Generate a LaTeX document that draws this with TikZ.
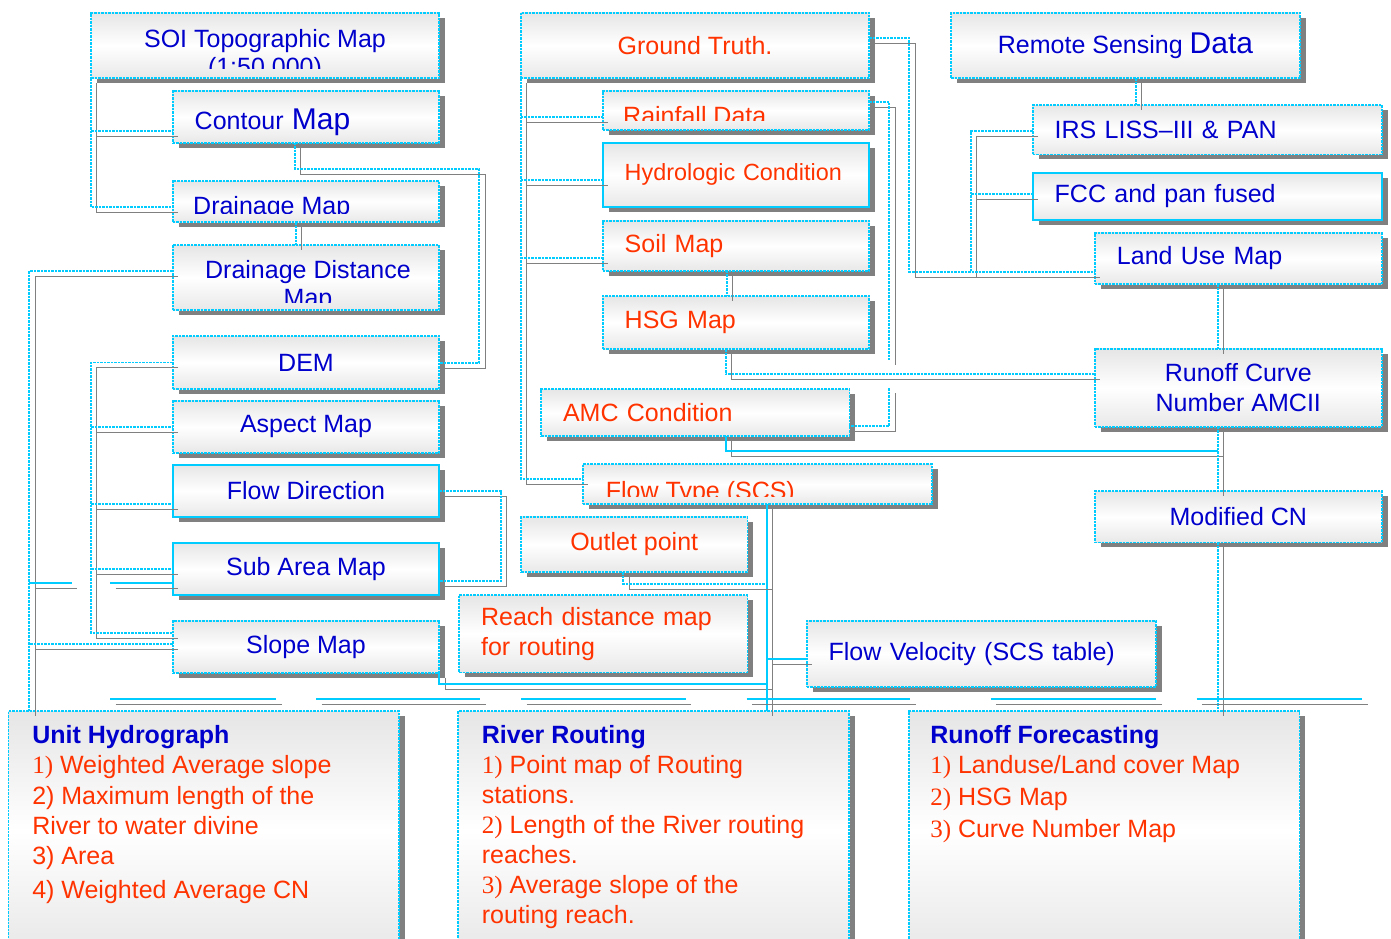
\documentclass[tikz,border=0pt]{standalone}
\usepackage{fontspec}
\setmainfont{Liberation Sans}
\newfontfamily\numfont{Liberation Serif}
\usetikzlibrary{calc,shadows}

\definecolor{linecyan}{RGB}{0,204,255}
\definecolor{shadegray}{RGB}{128,128,128}
\definecolor{txtblue}{RGB}{0,0,204}
\definecolor{txtred}{RGB}{255,51,0}

\begin{document}
\begin{tikzpicture}[
  x=1pt, y=-1pt,
  box/.style={
    draw=linecyan,
    line width=1.7pt,
    dash pattern=on 2.5pt off 1pt,
    top color=black!10, bottom color=black!9, middle color=white,
    drop shadow={shadow xshift=6pt, shadow yshift=-5pt, opacity=1, fill=shadegray},
    inner sep=0pt, outer sep=0pt,
    font=\fontsize{25}{30}\selectfont,
    align=center,
    minimum width=#1pt,
  },
  solidbox/.style={solid, line width=2pt},
  padded/.style={align=left, inner xsep=22pt, text width=#1pt},
  bl/.style={text=txtblue},
  rd/.style={text=txtred},
  lbl/.style={inner sep=0pt, font=\fontsize{25}{28}\selectfont, align=left},
  link/.style={
    draw=linecyan,
    line width=1.9pt,
    dash pattern=on 2.5pt off 1pt,
    preaction={draw=shadegray, transform canvas={shift={(5.5pt,-5pt)}}},
  },
  linkfull/.style={link, solid},
]
\useasboundingbox (0,0) rectangle (1391,938);
\clip (0,0) rectangle (1391,938);

% Left column
\node[box=348, minimum height=65.6] (soi) at (265,45.5) {};
\node[box=266.6, minimum height=52, padded=222.6, text height=31pt, bl] (contour) at (306,116.7) {Contour {\fontsize{30}{30}\selectfont Map}};
\node[box=266.6, minimum height=41] (drain) at (306,201.5) {};
\node[box=266.6, minimum height=65] (ddist) at (306,277.5) {};
\node[box=266.6, minimum height=53, bl] (dem) at (306,362.5) {DEM};
\node[box=266.6, minimum height=52, bl] (aspect) at (306,426.7) {Aspect Map};
\node[box=266.6, minimum height=52, solidbox, bl] (flowdir) at (306,490.7) {Flow Direction};
\node[box=266.6, minimum height=52.3, solidbox, bl] (subarea) at (306,568.8) {Sub Area Map};
\node[box=266.6, minimum height=52, bl] (slope) at (306,646.7) {Slope Map};

% Middle column
\node[box=348.6, minimum height=65.6, rd] (ground) at (695,45.5) {Ground Truth.};
\node[box=266.6, minimum height=39.3] (rain) at (736,110.3) {};
\node[box=266.6, minimum height=64, solidbox, padded=222.6, rd, font=\fontsize{23.4}{28}\selectfont] (hydro) at (736,174.7) {Hydrologic Condition};
\node[box=266.6, minimum height=50, padded=222.6, rd] (soil) at (736,245.7) {Soil Map};
\node[box=266.6, minimum height=53, padded=222.6, rd] (hsg) at (736,322.5) {HSG Map};
\node[box=308.3, minimum height=47, padded=264.3, rd] (amc) at (695.2,412.5) {AMC Condition};
\node[box=349, minimum height=40] (flowtype) at (757.2,484.3) {};
\node[box=226.3, minimum height=55.6, rd] (outlet) at (634.2,544.5) {Outlet point};
\node[box=288.3, minimum height=77.3, padded=244.3, rd] (reach) at (603.2,633.7) {Reach distance map\\for routing};
\node[box=349.3, minimum height=66, padded=305.3, bl] (velocity) at (981.3,653.7) {Flow Velocity (SCS table)};

% Right column
\node[box=349, minimum height=65.6, bl] (rsd) at (1125.5,45.5) {Remote Sensing {\fontsize{30}{30}\selectfont Data}};
\node[box=349, minimum height=49.3, padded=305, bl] (irs) at (1207.2,129.7) {IRS LISS--III \& PAN};
\node[box=349, minimum height=47.3, solidbox, padded=305, bl] (fcc) at (1207.2,196.3) {FCC and pan fused};
\node[box=286.7, minimum height=51.6, padded=242.7, bl] (landuse) at (1238.3,258.5) {Land Use Map};
\node[box=286.7, minimum height=77.7, bl] (curve) at (1238.3,387.8) {Runoff Curve\\Number AMCII};
\node[box=286.7, minimum height=51.3, bl] (modcn) at (1238.3,516.7) {Modified CN};

% Output boxes
\node[box=390.7, minimum height=240] (unit) at (203.7,831) {};
\node[box=391, minimum height=240] (river) at (653.8,831) {};
\node[box=390.3, minimum height=240] (forecast) at (1104.2,831) {};

% Cut-off labels
\begin{scope}
  \clip (soi.north west) rectangle (soi.east |- 0,68);
  \node[lbl, align=center, bl, anchor=base] (soiT) at ($(soi.north)+(0,62.3)$) {SOI Topographic Map\\(1:50,000)};
\end{scope}
\begin{scope}
  \clip (drain.north west) rectangle (drain.east |- 0,213.5);
  \node[lbl, bl, anchor=base west] (drainT) at ($(drain.west)+(20.3,13.1)$) {Drainage Map};
\end{scope}
\begin{scope}
  \clip (ddist.north west) rectangle (ddist.east |- 0,302);
  \node[lbl, align=center, bl, anchor=base] (ddistT) at ($(ddist.north)+(2,61)$) {Drainage Distance\\Map};
\end{scope}
\begin{scope}
  \clip (rain.north west) rectangle (rain.east |- 0,120);
  \node[lbl, rd, anchor=base west] (rainT) at ($(rain.north west)+(20.3,34)$) {Rainfall Data};
\end{scope}
\begin{scope}
  \clip (flowtype.north west) rectangle (flowtype.east |- 0,496.7);
  \node[lbl, rd, anchor=base west] (flowtypeT) at ($(flowtype.north west)+(23,35.3)$) {Flow Type (SCS)};
\end{scope}

% Output texts (anchored on the last line)
\node[lbl, rd, anchor=base west, font=\fontsize{25}{30}\selectfont] (unitT) at ($(unit.north west)+(23.7,187.8)$)
  {{\bfseries\color{txtblue}Unit Hydrograph}\\
   {\numfont 1)} Weighted Average slope\\[1.5pt]
   2) Maximum length of the\\
   River to water divine\\
   3) Area\\[4pt]
   4) Weighted Average CN};
\node[lbl, rd, anchor=base west, font=\fontsize{25}{30}\selectfont] (riverT) at ($(river.north west)+(23.4,212.3)$)
  {{\bfseries\color{txtblue}River Routing}\\
   {\numfont 1)} Point map of Routing\\
   stations.\\
   {\numfont 2)} Length of the River routing\\
   reaches.\\
   {\numfont 3)} Average slope of the\\
   routing reach.};
\node[lbl, rd, anchor=base west, font=\fontsize{25}{30}\selectfont] (forecastT) at ($(forecast.north west)+(21,126.3)$)
  {{\bfseries\color{txtblue}Runoff Forecasting}\\
   {\numfont 1)} Landuse/Land cover Map\\[2pt]
   {\numfont 2)} HSG Map\\[2pt]
   {\numfont 3)} Curve Number Map};

% Bus lines
\coordinate (uhBus) at (29.3,0);
\coordinate (demBus) at (91,0);
\coordinate (ftBus) at (766.7,0);
\coordinate (irsBus) at (971,0);
\coordinate (cnBus) at (1217.7,0);

% Topographic map branch
\draw[link] (soi.south west) |- (drain.west |- 0,207);
\draw[link] (soi.south west |- 0,131) -- (contour.west |- 0,131);
\draw[link] (contour.south -| 295,0) |- (479.3,169) |- (dem.east |- 0,362.7);
\draw[link] (drain.south -| 295.7,0) -- (ddist.north -| 295.7,0);
\draw[link] (ddist.west |- 0,271) -| (uhBus |- unit.north);
\draw[link] (slope.west |- 0,644) -- (uhBus |- 0,644);
\draw[linkfull] (uhBus |- 0,582.7) -- (71.7,582.7);
\draw[linkfull] (110,582.7) -- (subarea.west |- 0,582.7);

% DEM products
\draw[link] (dem.west) -| (demBus |- 0,632.7) -- (slope.west |- 0,632.7);
\draw[link] (demBus |- aspect.west) -- (aspect.west);
\draw[link] (demBus |- 0,504) -- (flowdir.west |- 0,504);
\draw[link] (demBus |- subarea.west) -- (subarea.west);
\draw[link] (flowdir.east) -| (501,580.7) -- (subarea.east |- 0,580.7);

% Routing inputs
\draw[linkfull] (slope.south east) |- (ftBus |- 0,684.3);
\draw[linkfull] (flowtype.south -| ftBus) -- (ftBus |- river.north);
\draw[link] (outlet.south -| 623.3,0) |- (ftBus |- 0,584);
\draw[linkfull] (velocity.west |- 0,659) -- (ftBus |- 0,659);

% Ground truth branch
\draw[link] (ground.south west) |- (flowtype.west |- 0,479);
\draw[link] (ground.south west |- 0,116.7) -- (rain.west |- 0,116.7);
\draw[link] (ground.south west |- 0,180) -- (hydro.west |- 0,180);
\draw[link] (ground.south west |- 0,258.3) -- (soil.west |- 0,258.3);
\draw[link] (soil.south -| 726.7,0) -- (hsg.north -| 726.7,0);
\draw[link] (hsg.south -| 725.7,0) |- (curve.west |- 0,374.3);
\draw[link] (ground.east |- 0,38.3) -| (909.3,271.7) -- (landuse.west |- 0,271.7);
\draw[link] (rain.east |- 0,101.7) -| (889.3,360);
\draw[link] (889.3,388.3) |- (amc.east |- 0,426);
\draw[linkfull] (amc.south -| 725.7,0) |- (cnBus |- 0,450.7);

% Remote sensing branch
\draw[link] (rsd.south -| 1136,0) -- (irs.north -| 1136,0);
\draw[link] (irs.west |- 0,131) -| (irsBus |- 0,271.7) -- (landuse.west |- 0,271.7);
\draw[link] (irsBus |- 0,194.3) -- (fcc.west |- 0,194.3);
\draw[link] (landuse.south -| cnBus) -- (curve.north -| cnBus);
\draw[link] (curve.south -| cnBus) -- (modcn.north -| cnBus);
\draw[link] (modcn.south -| cnBus) -- (forecast.north -| cnBus);

% Rule above the output boxes
\foreach \a/\b in {110/276, 316/480, 521/685.7, 746.7/910, 990.7/1156, 1196.7/1362}
  \draw[linkfull] (\a,698.7) -- (\b,698.7);

\end{tikzpicture}
\end{document}
